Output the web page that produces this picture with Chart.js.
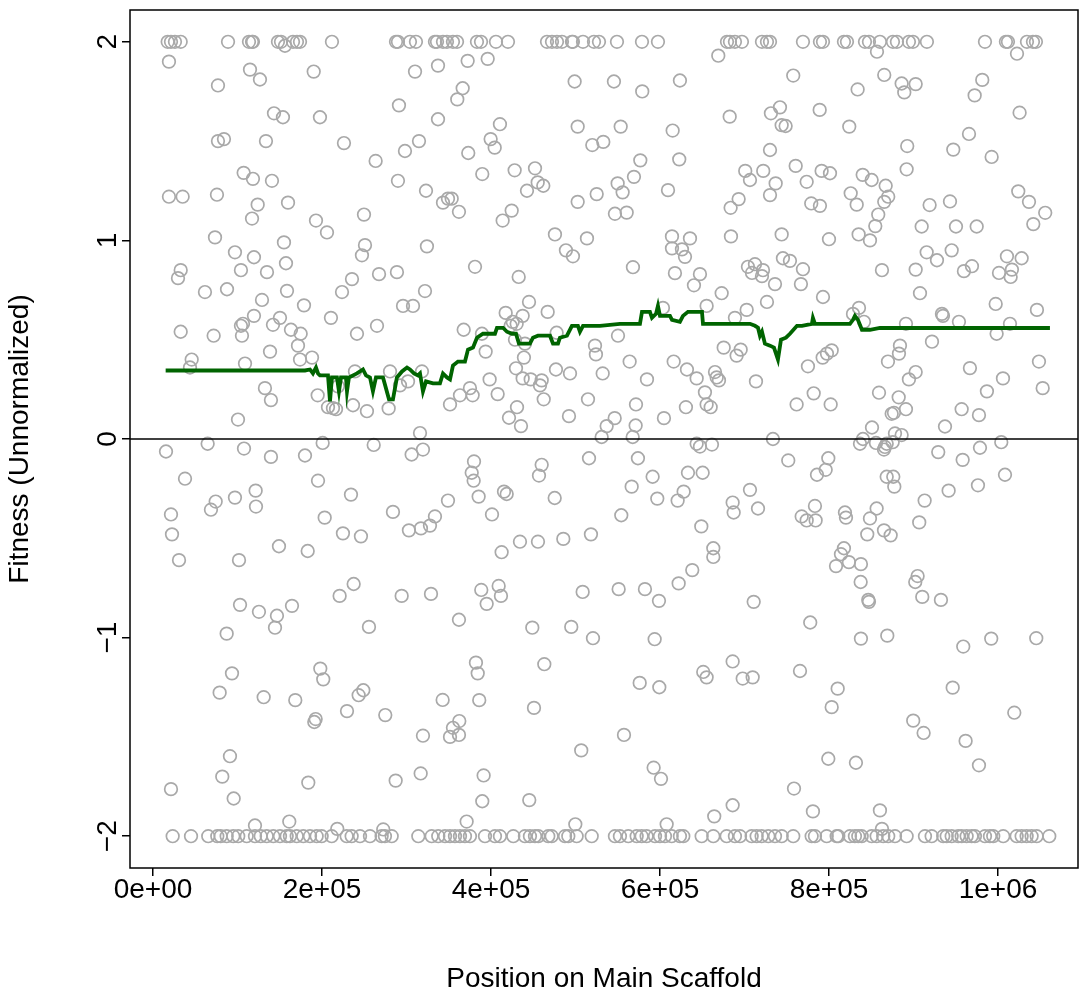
<!DOCTYPE html>
<html><head><meta charset="utf-8">
<script src="https://cdn.jsdelivr.net/npm/chart.js@4.4.1/dist/chart.umd.min.js"></script>
<style>html,body{margin:0;padding:0;background:#fff;}#wrap{width:1081px;height:993px;}</style>
</head><body><div id="wrap"><canvas id="c" width="1081" height="993"></canvas></div>
<script>
// ---- tick labels / titles ----
const xTicks = [0, 200000, 400000, 600000, 800000, 1000000];
const xTickLabels = ['0e+00', '2e+05', '4e+05', '6e+05', '8e+05', '1e+06'];
const yTicks = [-2, -1, 0, 1, 2];
const yTickLabels = ['\u22122', '\u22121', '0', '1', '2'];
const xTitle = 'Position on Main Scaffold';
const yTitle = 'Fitness (Unnormalized)';

// ---- fitness of each insertion: [position, fitness] ----
const capHigh = [[17400,2],[21300,2],[26000,2],[32800,2],[88800,2],[113600,2],[117200,2],[118300,2],[147900,2],[151500,2],[165700,2],[170400,2],[174000,2],[211800,2],[287600,2],[289900,2],[304100,2],[311200,2],[333700,2],[336100,2],[343200,2],[347900,2],[355000,2],[359800,2],[383400,2],[388200,2],[405900,2],[420100,2],[466300,2],[472200,2],[478100,2],[484000,2],[495800,2],[497000,2],[508900,2],[521900,2],[527800,2],[549100,2],[578700,2],[597600,2],[679300,2],[682800,2],[688700,2],[697000,2],[720700,2],[726600,2],[730200,2],[769200,2],[789300,2],[792900,2],[817700,2],[821300,2],[842600,2],[847300,2],[860300,2],[875700,2],[880400,2],[894600,2],[899400,2],[915900,2],[984600,2],[1009400,2],[1011800,2],[1034300,2],[1041400,2],[1044900,2],[156200,1.98],[856800,1.95],[1022500,1.94]];

const upperLeft = [[18900,1.90],[114800,1.86],[126600,1.81],[76900,1.78],[190200,1.85],[143200,1.64],[153800,1.62],[197600,1.62],[76900,1.50],[84000,1.51],[133700,1.50],[226000,1.49],[263500,1.40],[298200,1.45],[314800,1.50],[291100,1.68],[310100,1.85],[337300,1.88],[337300,1.61],[107300,1.34],[118300,1.31],[140800,1.30],[289900,1.30],[323100,1.25],[343200,1.19],[349100,1.21],[18900,1.22],[35100,1.22],[75700,1.23],[123900,1.18],[159800,1.19],[117200,1.11],[192900,1.10],[249700,1.13],[205900,1.04]];

const upperMid = [[372400,1.904],[396100,1.914],[366500,1.766],[360100,1.71],[499000,1.80],[545500,1.80],[579000,1.75],[623600,1.805],[669000,1.93],[410600,1.585],[399600,1.51],[404400,1.467],[373100,1.44],[502600,1.573],[553500,1.573],[615000,1.553],[519900,1.48],[532900,1.496],[682500,1.623],[731300,1.64],[730200,1.455],[576700,1.403],[622800,1.408],[389700,1.334],[428000,1.353],[452100,1.363],[455300,1.292],[461900,1.275],[442600,1.25],[569200,1.32],[549900,1.287],[555800,1.242],[609500,1.253],[700900,1.35],[706500,1.304],[722200,1.35],[730200,1.228],[353500,1.21],[362100,1.144],[413800,1.10],[424500,1.15],[502600,1.194],[525100,1.233],[546700,1.134],[560600,1.14],[693100,1.208],[683600,1.164]];

const upperRight = [[757700,1.83],[833900,1.76],[865400,1.833],[886000,1.79],[902600,1.787],[889100,1.745],[981400,1.808],[972400,1.73],[1025600,1.643],[742000,1.67],[789000,1.657],[744000,1.58],[748700,1.576],[824000,1.573],[892600,1.475],[947100,1.457],[965700,1.536],[992500,1.42],[891900,1.358],[760600,1.375],[791300,1.35],[801200,1.338],[773600,1.295],[839900,1.33],[850500,1.304],[867100,1.275],[870100,1.22],[865400,1.194],[858300,1.13],[736900,1.287],[825700,1.237],[832800,1.18],[779000,1.186],[789300,1.174],[919100,1.178],[943200,1.196],[1024000,1.247],[1036700,1.194],[1055900,1.139],[1041800,1.082],[854800,1.072],[909700,1.07],[950300,1.07],[974800,1.07]];

const lowPosLeft = [[73400,1.015],[155000,0.99],[250900,0.976],[247300,0.925],[324200,0.97],[97000,0.94],[119500,0.915],[157400,0.885],[32800,0.85],[29600,0.81],[104100,0.85],[134900,0.84],[235500,0.805],[267500,0.83],[288700,0.84],[61500,0.74],[87600,0.754],[158600,0.746],[223700,0.74],[321900,0.745],[129000,0.70],[178700,0.673],[119500,0.62],[106500,0.58],[104100,0.57],[150300,0.61],[142000,0.575],[210600,0.61],[295900,0.67],[307700,0.67],[265100,0.57],[32800,0.54],[71800,0.52],[105300,0.52],[163300,0.55],[174800,0.53],[241400,0.53],[171600,0.47],[138500,0.44],[174000,0.40],[188200,0.41],[45800,0.40],[43800,0.36],[108900,0.38],[132500,0.256],[139600,0.196],[194900,0.22],[239000,0.34],[280500,0.34],[218900,0.265],[292300,0.27],[301800,0.29],[318300,0.34],[207100,0.16],[213000,0.155],[216600,0.15],[236700,0.17],[253200,0.14],[278900,0.154],[100600,0.098],[316000,0.03],[351500,0.174]];

const lowPosMid = [[475700,1.03],[513600,1.01],[614200,1.02],[635500,1.01],[614200,0.96],[626000,0.955],[629600,0.917],[684000,1.02],[488700,0.95],[497000,0.92],[381100,0.867],[568000,0.865],[432800,0.816],[617700,0.835],[647300,0.83],[640200,0.774],[704100,0.867],[712400,0.88],[708900,0.836],[721900,0.85],[720700,0.82],[673000,0.734],[445000,0.69],[417400,0.635],[437500,0.62],[467100,0.64],[425700,0.59],[430400,0.58],[423300,0.57],[367700,0.55],[389300,0.53],[477700,0.535],[550300,0.52],[603500,0.66],[655200,0.67],[688700,0.61],[702600,0.65],[726600,0.69],[428400,0.50],[440200,0.48],[393700,0.44],[439000,0.41],[523100,0.47],[524200,0.426],[564100,0.39],[616200,0.39],[675400,0.46],[695500,0.45],[690700,0.42],[429600,0.356],[476900,0.35],[493500,0.33],[532200,0.33],[631900,0.35],[643400,0.305],[665100,0.337],[667100,0.31],[669800,0.295],[713600,0.29],[398400,0.30],[437500,0.305],[447000,0.30],[460000,0.295],[458000,0.27],[584600,0.30],[375100,0.256],[378300,0.22],[363300,0.22],[407900,0.226],[462400,0.20],[514800,0.20],[571600,0.174],[630700,0.16],[655200,0.174],[660000,0.16],[653200,0.235],[430800,0.16],[421300,0.107],[435500,0.065],[492300,0.115],[536900,0.065],[546400,0.105],[571200,0.068],[604700,0.105],[531000,0.01],[567700,0.01]];

const lowPosRight = [[744000,1.03],[800000,1.006],[835100,1.03],[848500,1.0],[745500,0.91],[753800,0.897],[769200,0.855],[736100,0.78],[766800,0.78],[792900,0.715],[862700,0.85],[915600,0.94],[927800,0.90],[945200,0.95],[902600,0.853],[907700,0.734],[959700,0.845],[969200,0.87],[1001200,0.836],[1010600,0.92],[1016500,0.853],[1015000,0.816],[1028000,0.91],[997300,0.68],[1046100,0.65],[933700,0.63],[934900,0.62],[953800,0.59],[891100,0.58],[1014200,0.58],[998400,0.53],[828400,0.63],[835500,0.66],[841400,0.59],[921900,0.49],[884000,0.47],[882800,0.43],[869800,0.39],[803200,0.446],[797600,0.43],[792500,0.41],[775100,0.366],[966800,0.357],[1048500,0.39],[902600,0.337],[894600,0.30],[1005900,0.305],[986900,0.24],[1052900,0.256],[781900,0.23],[761700,0.174],[802000,0.174],[859200,0.233],[882500,0.21],[891100,0.15],[876900,0.132],[874200,0.127],[957000,0.15],[977500,0.12],[937300,0.063],[850900,0.058],[878100,0.028],[886000,0.02],[733700,0.0]];

const lowNegLeft = [[15400,-0.063],[64700,-0.024],[107700,-0.048],[139600,-0.09],[179900,-0.083],[200800,-0.02],[261200,-0.03],[306100,-0.078],[319500,-0.053],[37900,-0.2],[195300,-0.21],[234300,-0.28],[74200,-0.315],[68600,-0.356],[97000,-0.295],[121500,-0.26],[121900,-0.34],[21300,-0.38],[22500,-0.48],[203200,-0.396],[224800,-0.475],[246100,-0.49],[284000,-0.367],[302900,-0.46],[317100,-0.45],[327800,-0.436],[333700,-0.39],[349100,-0.31],[30800,-0.61],[101800,-0.61],[149100,-0.54],[183100,-0.564],[237500,-0.73],[220900,-0.79],[294300,-0.79],[329000,-0.78],[103000,-0.835],[125400,-0.87],[146700,-0.89],[164500,-0.84],[144400,-0.95],[87200,-0.98],[255600,-0.946]];

const lowNegMid = [[643400,-0.024],[647300,-0.038],[661500,-0.028],[379900,-0.113],[377200,-0.17],[379500,-0.21],[385400,-0.29],[401200,-0.38],[415400,-0.265],[418600,-0.277],[460000,-0.13],[456800,-0.184],[475400,-0.297],[516000,-0.097],[573900,-0.097],[566500,-0.24],[554200,-0.384],[591300,-0.19],[596800,-0.30],[633100,-0.17],[650500,-0.17],[628000,-0.265],[620900,-0.31],[648900,-0.44],[686000,-0.32],[687200,-0.37],[706500,-0.256],[716000,-0.35],[412600,-0.57],[434300,-0.517],[455600,-0.517],[485600,-0.503],[518300,-0.48],[663100,-0.55],[663100,-0.594],[638200,-0.66],[622100,-0.727],[388500,-0.76],[409100,-0.74],[411800,-0.79],[394900,-0.83],[508500,-0.77],[551100,-0.756],[582200,-0.756],[598800,-0.815],[710900,-0.82],[362100,-0.91],[448900,-0.95],[495000,-0.946],[520700,-1.003],[593700,-1.008]];

const lowNegRight = [[836700,-0.024],[840200,0.0],[855600,-0.02],[866200,-0.04],[868300,-0.024],[875400,-0.016],[865100,-0.053],[929300,-0.066],[958200,-0.105],[978700,-0.044],[1003900,-0.016],[751800,-0.108],[799200,-0.097],[796100,-0.155],[785800,-0.18],[868300,-0.19],[876100,-0.19],[877300,-0.24],[1008300,-0.18],[913200,-0.31],[941600,-0.26],[976300,-0.233],[906800,-0.42],[783400,-0.337],[767700,-0.39],[773600,-0.41],[784200,-0.41],[818900,-0.37],[820100,-0.396],[856400,-0.35],[848500,-0.40],[845300,-0.48],[865100,-0.46],[873000,-0.485],[817700,-0.55],[814200,-0.58],[808300,-0.64],[823600,-0.62],[837800,-0.63],[837500,-0.72],[846500,-0.81],[847300,-0.82],[904900,-0.69],[902100,-0.72],[910400,-0.795],[932500,-0.81],[777800,-0.924],[837800,-1.005],[869000,-0.99],[958900,-1.045],[992000,-1.005],[1045300,-1.003]];

const deepNeg = [[93500,-1.18],[78900,-1.277],[131000,-1.30],[168400,-1.315],[198000,-1.156],[201500,-1.21],[229600,-1.37],[190900,-1.425],[192500,-1.41],[243400,-1.29],[248900,-1.265],[274900,-1.39],[342800,-1.314],[319500,-1.494],[351500,-1.50],[355000,-1.454],[91100,-1.597],[82000,-1.70],[95500,-1.81],[21300,-1.763],[183800,-1.73],[287200,-1.72],[316800,-1.684],[120700,-1.946],[161300,-1.926],[218100,-1.963],[272500,-1.966],
[382200,-1.126],[384300,-1.18],[463100,-1.134],[386100,-1.315],[450900,-1.354],[362500,-1.42],[362100,-1.49],[506800,-1.568],[391300,-1.694],[389700,-1.824],[445300,-1.818],[371200,-1.926],[499800,-1.94],[576000,-1.228],[599200,-1.25],[557400,-1.49],[592500,-1.655],[601200,-1.711],[607900,-1.94],[651200,-1.173],[655200,-1.20],[686000,-1.12],[697900,-1.206],[709700,-1.20],[664200,-1.90],[686000,-1.844],
[765700,-1.168],[810300,-1.257],[803200,-1.35],[946400,-1.252],[1019300,-1.378],[899700,-1.418],[912000,-1.48],[961700,-1.52],[977500,-1.643],[799200,-1.61],[831900,-1.63],[758600,-1.76],[781000,-1.875],[860300,-1.87],[862700,-1.963]];

const capLow = [[23300,-2],[45000,-2],[65400,-2],[76100,-2],[80100,-2],[87200,-2],[95000,-2],[100900,-2],[110900,-2],[120700,-2],[127500,-2],[134600,-2],[142400,-2],[150300,-2],[158200,-2],[162100,-2],[170100,-2],[177900,-2],[185800,-2],[193700,-2],[199600,-2],[211500,-2],[229200,-2],[235100,-2],[245000,-2],[256800,-2],[270600,-2],[274500,-2],[282500,-2],[314000,-2],[329800,-2],[337600,-2],[345600,-2],[351500,-2],[357400,-2],[363300,-2],[369200,-2],[375100,-2],[392900,-2],[404700,-2],[410600,-2],[426400,-2],[440200,-2],[446100,-2],[452100,-2],[456000,-2],[467800,-2],[471800,-2],[487600,-2],[491500,-2],[501400,-2],[519200,-2],[546700,-2],[552600,-2],[562500,-2],[572400,-2],[578300,-2],[584200,-2],[594100,-2],[600000,-2],[605900,-2],[613800,-2],[623600,-2],[627600,-2],[649300,-2],[663100,-2],[678900,-2],[688700,-2],[694700,-2],[708500,-2],[714400,-2],[720300,-2],[728200,-2],[736100,-2],[744000,-2],[757700,-2],[779500,-2],[783400,-2],[797300,-2],[809100,-2],[811000,-2],[824800,-2],[830700,-2],[834700,-2],[838700,-2],[850500,-2],[856400,-2],[864200,-2],[870100,-2],[878100,-2],[891900,-2],[913600,-2],[921500,-2],[935200,-2],[939300,-2],[945200,-2],[953000,-2],[957000,-2],[962900,-2],[968800,-2],[972700,-2],[984600,-2],[990500,-2],[994400,-2],[1006200,-2],[1022100,-2],[1028000,-2],[1033900,-2],[1039800,-2],[1045800,-2],[1060700,-2]];

// ---- running mean of fitness along the scaffold ----
const runningMean = [[15000,0.345],[179900,0.345],[185800,0.35],[189300,0.33],[192900,0.36],[195300,0.33],[197600,0.32],[207100,0.32],[209500,0.19],[211800,0.31],[217700,0.31],[220100,0.24],[222500,0.31],[228400,0.31],[229600,0.24],[231900,0.31],[241400,0.33],[248500,0.35],[252100,0.32],[256800,0.31],[260300,0.24],[263900,0.31],[272200,0.31],[279300,0.20],[284000,0.20],[288700,0.31],[294700,0.34],[300600,0.36],[304100,0.35],[308900,0.33],[313600,0.32],[316000,0.33],[319500,0.24],[323100,0.29],[331400,0.28],[339600,0.28],[343200,0.33],[347900,0.31],[351500,0.30],[355000,0.37],[360900,0.39],[369200,0.39],[372800,0.45],[378700,0.46],[383400,0.51],[390500,0.53],[404700,0.53],[407100,0.56],[414200,0.56],[418900,0.54],[424800,0.53],[429600,0.53],[433100,0.48],[446100,0.48],[449700,0.51],[455600,0.52],[469800,0.52],[473400,0.48],[479300,0.48],[481600,0.51],[489900,0.52],[495800,0.57],[502900,0.57],[505300,0.54],[508900,0.57],[529000,0.57],[552600,0.58],[576300,0.58],[578700,0.64],[588100,0.64],[590500,0.61],[595300,0.63],[597600,0.67],[600000,0.62],[611800,0.62],[614200,0.60],[623600,0.59],[627200,0.62],[633100,0.64],[649700,0.64],[650900,0.58],[706500,0.58],[712400,0.57],[716000,0.56],[718300,0.52],[720700,0.54],[724200,0.48],[730200,0.47],[734900,0.46],[739600,0.40],[743200,0.50],[749100,0.51],[753800,0.53],[762100,0.57],[768000,0.57],[779800,0.58],[781000,0.61],[783400,0.58],[824800,0.58],[828400,0.60],[830700,0.62],[834300,0.60],[839000,0.55],[848500,0.55],[860300,0.56],[1061500,0.559]];

const allPoints = [].concat(capHigh, upperLeft, upperMid, upperRight, lowPosLeft, lowPosMid, lowPosRight, lowNegLeft, lowNegMid, lowNegRight, deepNeg, capLow);
const toXY = a => a.map(p => ({x: p[0], y: p[1]}));

const FONT = {family: "'Liberation Sans', Arial, Helvetica, sans-serif", size: 28, lineHeight: 1};

const rFrame = {
  id: 'rFrame',
  afterDatasetsDraw(chart) {
    const {ctx, chartArea: a, scales: {y}} = chart;
    const py = y.getPixelForValue(0);
    ctx.save();
    ctx.strokeStyle = '#000';
    ctx.lineWidth = 1.5;
    ctx.beginPath();
    ctx.moveTo(a.left, py);
    ctx.lineTo(a.right, py);
    ctx.stroke();
    ctx.strokeRect(a.left, a.top, a.right - a.left, a.bottom - a.top);
    ctx.restore();
  }
};

const noPad = s => { s.paddingLeft = 0; s.paddingRight = 0; s.paddingTop = 0; s.paddingBottom = 0; };

new Chart(document.getElementById('c'), {
  type: 'scatter',
  data: {
    datasets: [
      {type: 'line', label: 'mean', data: toXY(runningMean), borderColor: '#006400', borderWidth: 3.8,
       pointRadius: 0, fill: false, tension: 0, order: 1},
      {type: 'scatter', label: 'fitness', data: toXY(allPoints), pointStyle: 'circle', pointRadius: 6.3,
       borderColor: '#a9a9a9', backgroundColor: 'rgba(0,0,0,0)', borderWidth: 1.7, order: 2}
    ]
  },
  options: {
    responsive: false,
    animation: false,
    events: [],
    layout: {autoPadding: false, padding: {left: 0, top: 10, right: 3, bottom: 0}},
    plugins: {legend: {display: false}, tooltip: {enabled: false}},
    scales: {
      x: {
        type: 'linear', min: -27200, max: 1094700,
        afterBuildTicks: s => { s.ticks = xTicks.map(v => ({value: v})); },
        afterFit: s => { s.height = 125; noPad(s); },
        grid: {display: true, drawOnChartArea: false, drawTicks: true, tickLength: 8, color: '#000', lineWidth: 1.5},
        border: {display: false},
        ticks: {color: '#000', font: FONT, padding: 0, minRotation: 0, maxRotation: 0, autoSkip: false,
                callback: (v, i) => xTickLabels[i]},
        title: {display: true, text: xTitle, color: '#000', font: FONT, padding: {top: 0, bottom: 0}}
      },
      y: {
        type: 'linear', min: -2.16, max: 2.16,
        afterBuildTicks: s => { s.ticks = yTicks.map(v => ({value: v})); },
        afterFit: s => { s.width = 130; noPad(s); },
        grid: {display: true, drawOnChartArea: false, drawTicks: true, tickLength: 8, color: '#000', lineWidth: 1.5},
        border: {display: false},
        ticks: {color: '#000', font: FONT, padding: -2, minRotation: 90, maxRotation: 90, crossAlign: 'center', autoSkip: false,
                callback: (v, i) => yTickLabels[i]},
        title: {display: true, text: yTitle, color: '#000', font: FONT, padding: {top: 6, bottom: 0}}
      }
    }
  },
  plugins: [rFrame]
});
</script>
</body></html>
